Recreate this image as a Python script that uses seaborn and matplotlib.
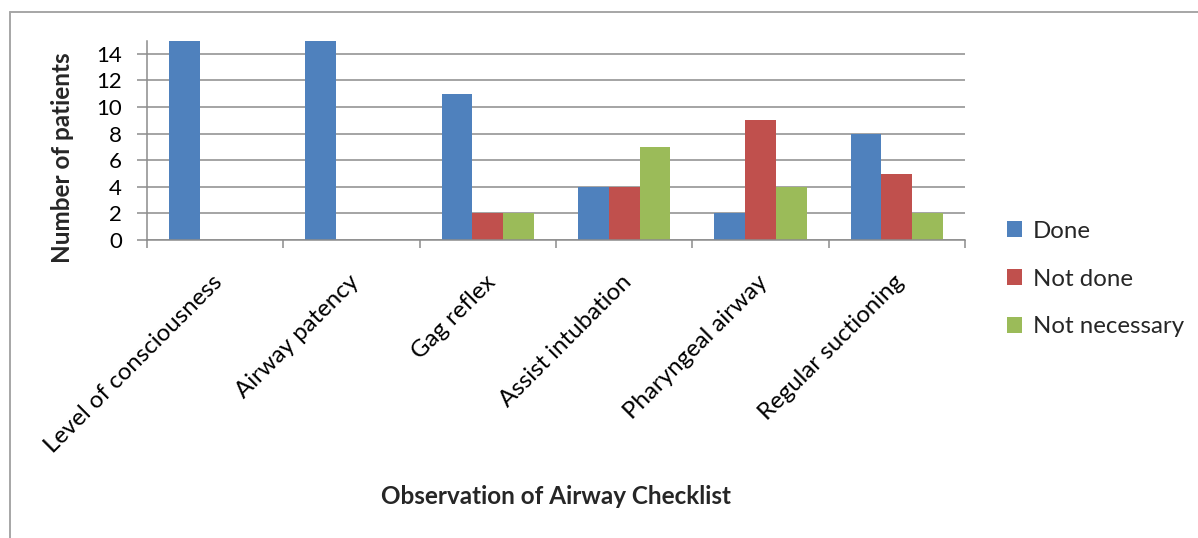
import matplotlib
matplotlib.use("Agg")
import matplotlib.pyplot as plt
import matplotlib.transforms as mtransforms
from matplotlib.lines import Line2D
from matplotlib.patches import Patch
import seaborn as sns
import pandas as pd

# Checklist items and patient counts per outcome
items = ["Level of consciousness", "Airway patency", "Gag reflex",
         "Assist intubation", "Pharyngeal airway", "Regular suctioning"]
done = [15, 15, 11, 4, 2, 8]
not_done = [0, 0, 2, 4, 9, 5]
not_necessary = [0, 0, 2, 7, 4, 2]
outcomes = ["Done", "Not done", "Not necessary"]
colors = ["#4F81BD", "#C0504D", "#9BBB59"]
y_ticks = [0, 2, 4, 6, 8, 10, 12, 14]

df = pd.DataFrame({
    "item": items * 3,
    "outcome": [outcomes[0]] * 6 + [outcomes[1]] * 6 + [outcomes[2]] * 6,
    "count": done + not_done + not_necessary,
})

sns.set_theme(style="white")
plt.rcParams["font.family"] = ["Lato", "DejaVu Sans"]

W, H = 1198, 538
fig = plt.figure(figsize=(W / 100, H / 100), dpi=100)
ax = fig.add_axes([147 / W, 1 - 240 / H, (965 - 147) / W, (240 - 40.5) / H])

sns.barplot(data=df, x="item", y="count", hue="outcome", order=items,
            hue_order=outcomes, palette=colors, width=0.675, gap=0,
            saturation=1, edgecolor="none", linewidth=0, ax=ax, legend=False)

grid_c = "#8C8C8C"
ax.set_ylim(0, 15)
ax.set_xlim(-0.5, len(items) - 0.5)
ax.set_yticks(y_ticks)
ax.yaxis.grid(True, color=grid_c, linewidth=1.1)
ax.set_axisbelow(True)
for s in ["top", "right"]:
    ax.spines[s].set_visible(False)
for s in ["left", "bottom"]:
    ax.spines[s].set_color(grid_c)
    ax.spines[s].set_linewidth(1.1)

ax.set_xlabel("")
ax.set_ylabel("")
ax.tick_params(axis="y", direction="out", length=7, width=1.1, color=grid_c,
               labelsize=16, pad=11, left=True, labelcolor="black")

# category boundary ticks below the axis
ax.set_xticks([i - 0.5 for i in range(len(items) + 1)], minor=True)
ax.tick_params(axis="x", which="minor", direction="out", length=5.5,
               width=1.1, color=grid_c, bottom=True)
ax.set_xticks(range(len(items)))
ax.tick_params(axis="x", which="major", length=0, pad=28, labelsize=17.3,
               labelcolor="black")
ax.set_xticklabels(items, rotation=45, ha="right", va="center",
                   rotation_mode="anchor")
shift = mtransforms.ScaledTranslation(4 / 100, 0, fig.dpi_scale_trans)
for lbl in ax.get_xticklabels():
    lbl.set_transform(lbl.get_transform() + shift)

fig.text(62 / W, 1 - 158 / H, "Number of patients", rotation=90,
         ha="center", va="center", fontsize=17.5, fontweight="bold")
fig.text(556 / W, 1 - 497 / H, "Observation of Airway Checklist",
         ha="center", va="center", fontsize=17.5, fontweight="bold")

handles = [Patch(facecolor=c, edgecolor="none", label=o)
           for c, o in zip(colors, outcomes)]
fig.legend(handles=handles, loc="center left",
           bbox_to_anchor=(997 / W, 1 - 279 / H), frameon=False,
           fontsize=17.3, handlelength=0.65, handleheight=0.65,
           handletextpad=0.45, labelspacing=1.12, borderaxespad=0)

# outer chart frame
frame_c = "#A6A6A6"
fig.add_artist(Line2D([9.5 / W, 9.5 / W], [0, 1 - 12 / H],
                      transform=fig.transFigure, color=frame_c, linewidth=1.4))
fig.add_artist(Line2D([9.5 / W, 1], [1 - 12 / H, 1 - 12 / H],
                      transform=fig.transFigure, color=frame_c, linewidth=1.4))

fig.savefig("out.png", dpi=100)
